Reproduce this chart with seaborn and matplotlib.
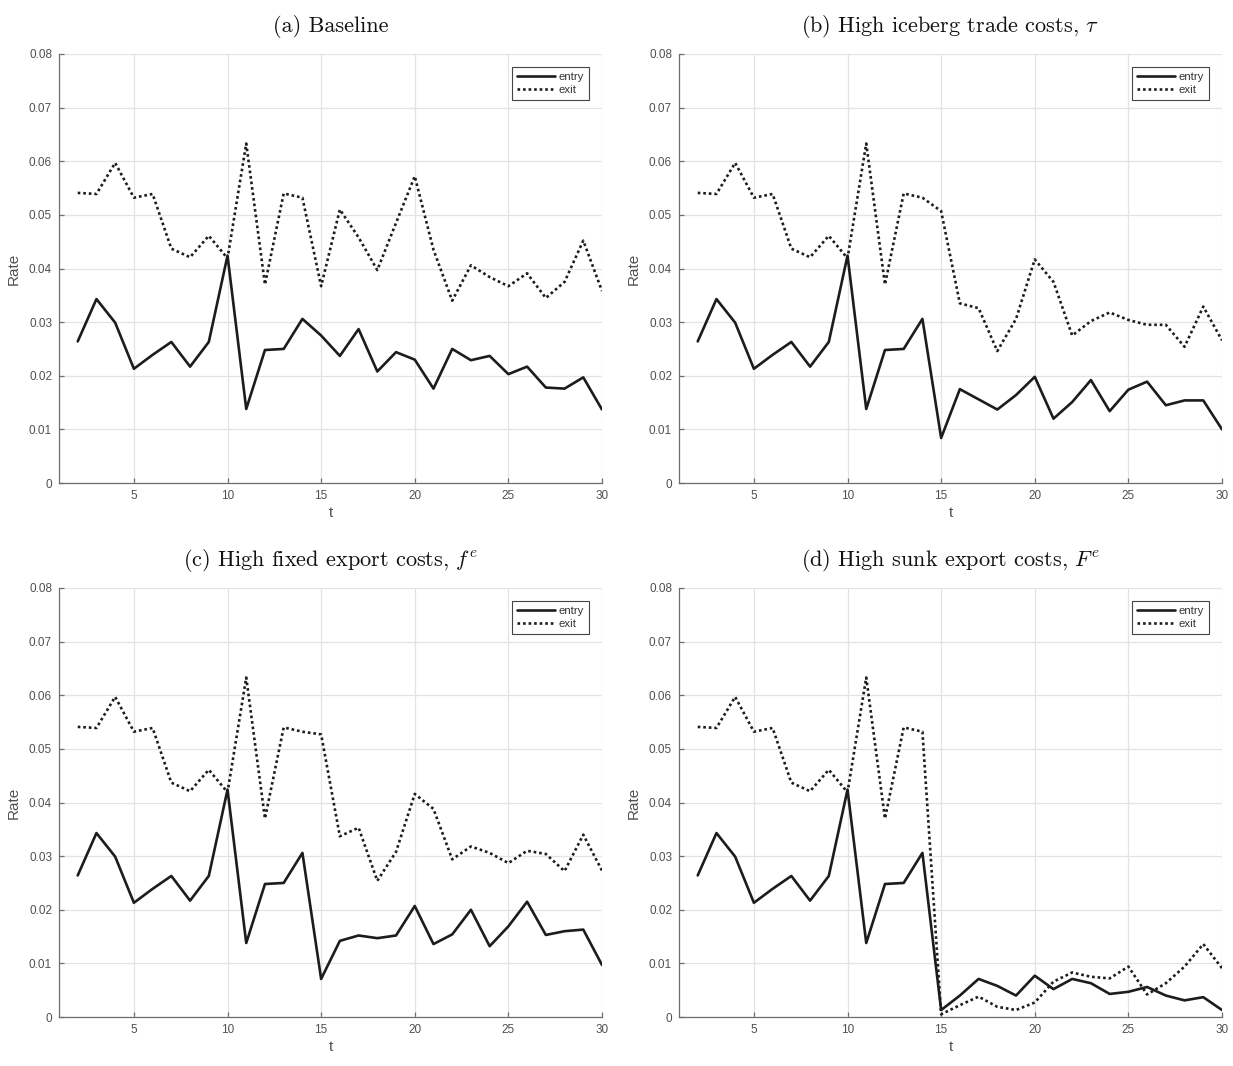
import matplotlib
matplotlib.use("Agg")
import matplotlib.pyplot as plt
import pandas as pd
import seaborn as sns
from matplotlib.ticker import FuncFormatter, MultipleLocator

# Periods
t = list(range(2, 31))

# Periods 2-14 are identical across all scenarios
entry_common = [0.0264, 0.0343, 0.0299, 0.0213, 0.0239, 0.0263, 0.0217,
                0.0263, 0.0424, 0.0138, 0.0248, 0.0250, 0.0306]
exit_common = [0.0541, 0.0539, 0.0597, 0.0532, 0.0539, 0.0437, 0.0421,
               0.0461, 0.0419, 0.0633, 0.0370, 0.0540, 0.0532]

# Periods 15-30 for each scenario
entry_baseline = [0.0275, 0.0237, 0.0287, 0.0208, 0.0244, 0.0230, 0.0176, 0.0250,
                  0.0229, 0.0237, 0.0203, 0.0217, 0.0178, 0.0176, 0.0197, 0.0137]
exit_baseline = [0.0367, 0.0510, 0.0458, 0.0397, 0.0485, 0.0572, 0.0435, 0.0340,
                 0.0406, 0.0384, 0.0367, 0.0391, 0.0345, 0.0375, 0.0452, 0.0358]

entry_iceberg = [0.0084, 0.0175, 0.0156, 0.0137, 0.0164, 0.0198, 0.0120, 0.0151,
                 0.0192, 0.0134, 0.0174, 0.0189, 0.0145, 0.0154, 0.0154, 0.0100]
exit_iceberg = [0.0507, 0.0335, 0.0326, 0.0246, 0.0306, 0.0417, 0.0375, 0.0275,
                0.0302, 0.0318, 0.0304, 0.0295, 0.0295, 0.0254, 0.0329, 0.0266]

entry_fixed = [0.0071, 0.0142, 0.0152, 0.0147, 0.0152, 0.0207, 0.0136, 0.0154,
               0.0200, 0.0132, 0.0169, 0.0215, 0.0153, 0.0160, 0.0163, 0.0097]
exit_fixed = [0.0527, 0.0337, 0.0353, 0.0254, 0.0308, 0.0416, 0.0388, 0.0294,
              0.0318, 0.0306, 0.0287, 0.0310, 0.0304, 0.0272, 0.0340, 0.0273]

entry_sunk = [0.0013, 0.0040, 0.0071, 0.0058, 0.0040, 0.0077, 0.0052, 0.0071,
              0.0063, 0.0043, 0.0047, 0.0056, 0.0040, 0.0031, 0.0037, 0.0013]
exit_sunk = [0.0005, 0.0022, 0.0038, 0.0019, 0.0013, 0.0027, 0.0066, 0.0083,
             0.0075, 0.0072, 0.0094, 0.0042, 0.0063, 0.0094, 0.0136, 0.0091]

titles = ["(a) Baseline",
          r"(b) High iceberg trade costs, $\tau$",
          r"(c) High fixed export costs, $f^e$",
          r"(d) High sunk export costs, $F^e$"]

scenarios = [(entry_baseline, exit_baseline),
             (entry_iceberg, exit_iceberg),
             (entry_fixed, exit_fixed),
             (entry_sunk, exit_sunk)]

sns.set_style("ticks")
plt.rcParams["font.family"] = ["Liberation Sans", "DejaVu Sans"]
plt.rcParams["mathtext.fontset"] = "cm"

LINE = "#1c1c1c"
AXIS = "#6e6e6e"
TICKTXT = "#505050"
GRID = "#e3e3e3"

W, H = 1233, 1066
fig = plt.figure(figsize=(W / 100, H / 100), dpi=100)

lefts = [59, 679, 59, 679]
bottoms = [483, 483, 1017, 1017]
aw, ah = 543, 429

for i, (title, (ent_tail, ext_tail)) in enumerate(zip(titles, scenarios)):
    ax = fig.add_axes([lefts[i] / W, 1 - bottoms[i] / H, aw / W, ah / H])
    df = pd.DataFrame({"t": t,
                       "entry": entry_common + ent_tail,
                       "exit": exit_common + ext_tail})
    sns.lineplot(data=df, x="t", y="entry", ax=ax, color=LINE, lw=1.9,
                 label="entry")
    sns.lineplot(data=df, x="t", y="exit", ax=ax, color=LINE, lw=1.9,
                 linestyle=(0, (1, 1.1)), label="exit")

    ax.set_xlim(1, 30)
    ax.set_ylim(0, 0.08)
    ax.xaxis.set_major_locator(MultipleLocator(5))
    ax.yaxis.set_major_locator(MultipleLocator(0.01))
    ax.yaxis.set_major_formatter(FuncFormatter(lambda v, p: "%g" % round(v, 4)))
    ax.grid(True, color=GRID, lw=0.9)
    ax.set_axisbelow(True)
    for s in ("top", "right"):
        ax.spines[s].set_visible(False)
    for s in ("left", "bottom"):
        ax.spines[s].set_color(AXIS)
        ax.spines[s].set_linewidth(0.9)
    ax.tick_params(direction="in", length=3.5, width=0.9, color=AXIS,
                   labelcolor=TICKTXT, labelsize=8.5, pad=5)
    ax.set_xlabel("t", color=TICKTXT, fontsize=11, labelpad=3)
    ax.set_ylabel("Rate", color=TICKTXT, fontsize=11, labelpad=6)
    ax.set_title(title, fontsize=16, family="cmr10", pad=16, color="#111111")

    leg = ax.legend(loc="upper right", fontsize=8.2, handlelength=3.3,
                    handletextpad=0.35, borderpad=0.45, labelspacing=0.3,
                    borderaxespad=1.1, fancybox=False, framealpha=1,
                    edgecolor="#444444")
    leg.get_frame().set_linewidth(0.8)
    for txt in leg.get_texts():
        txt.set_color("#333333")

fig.savefig("out.png", dpi=100)
